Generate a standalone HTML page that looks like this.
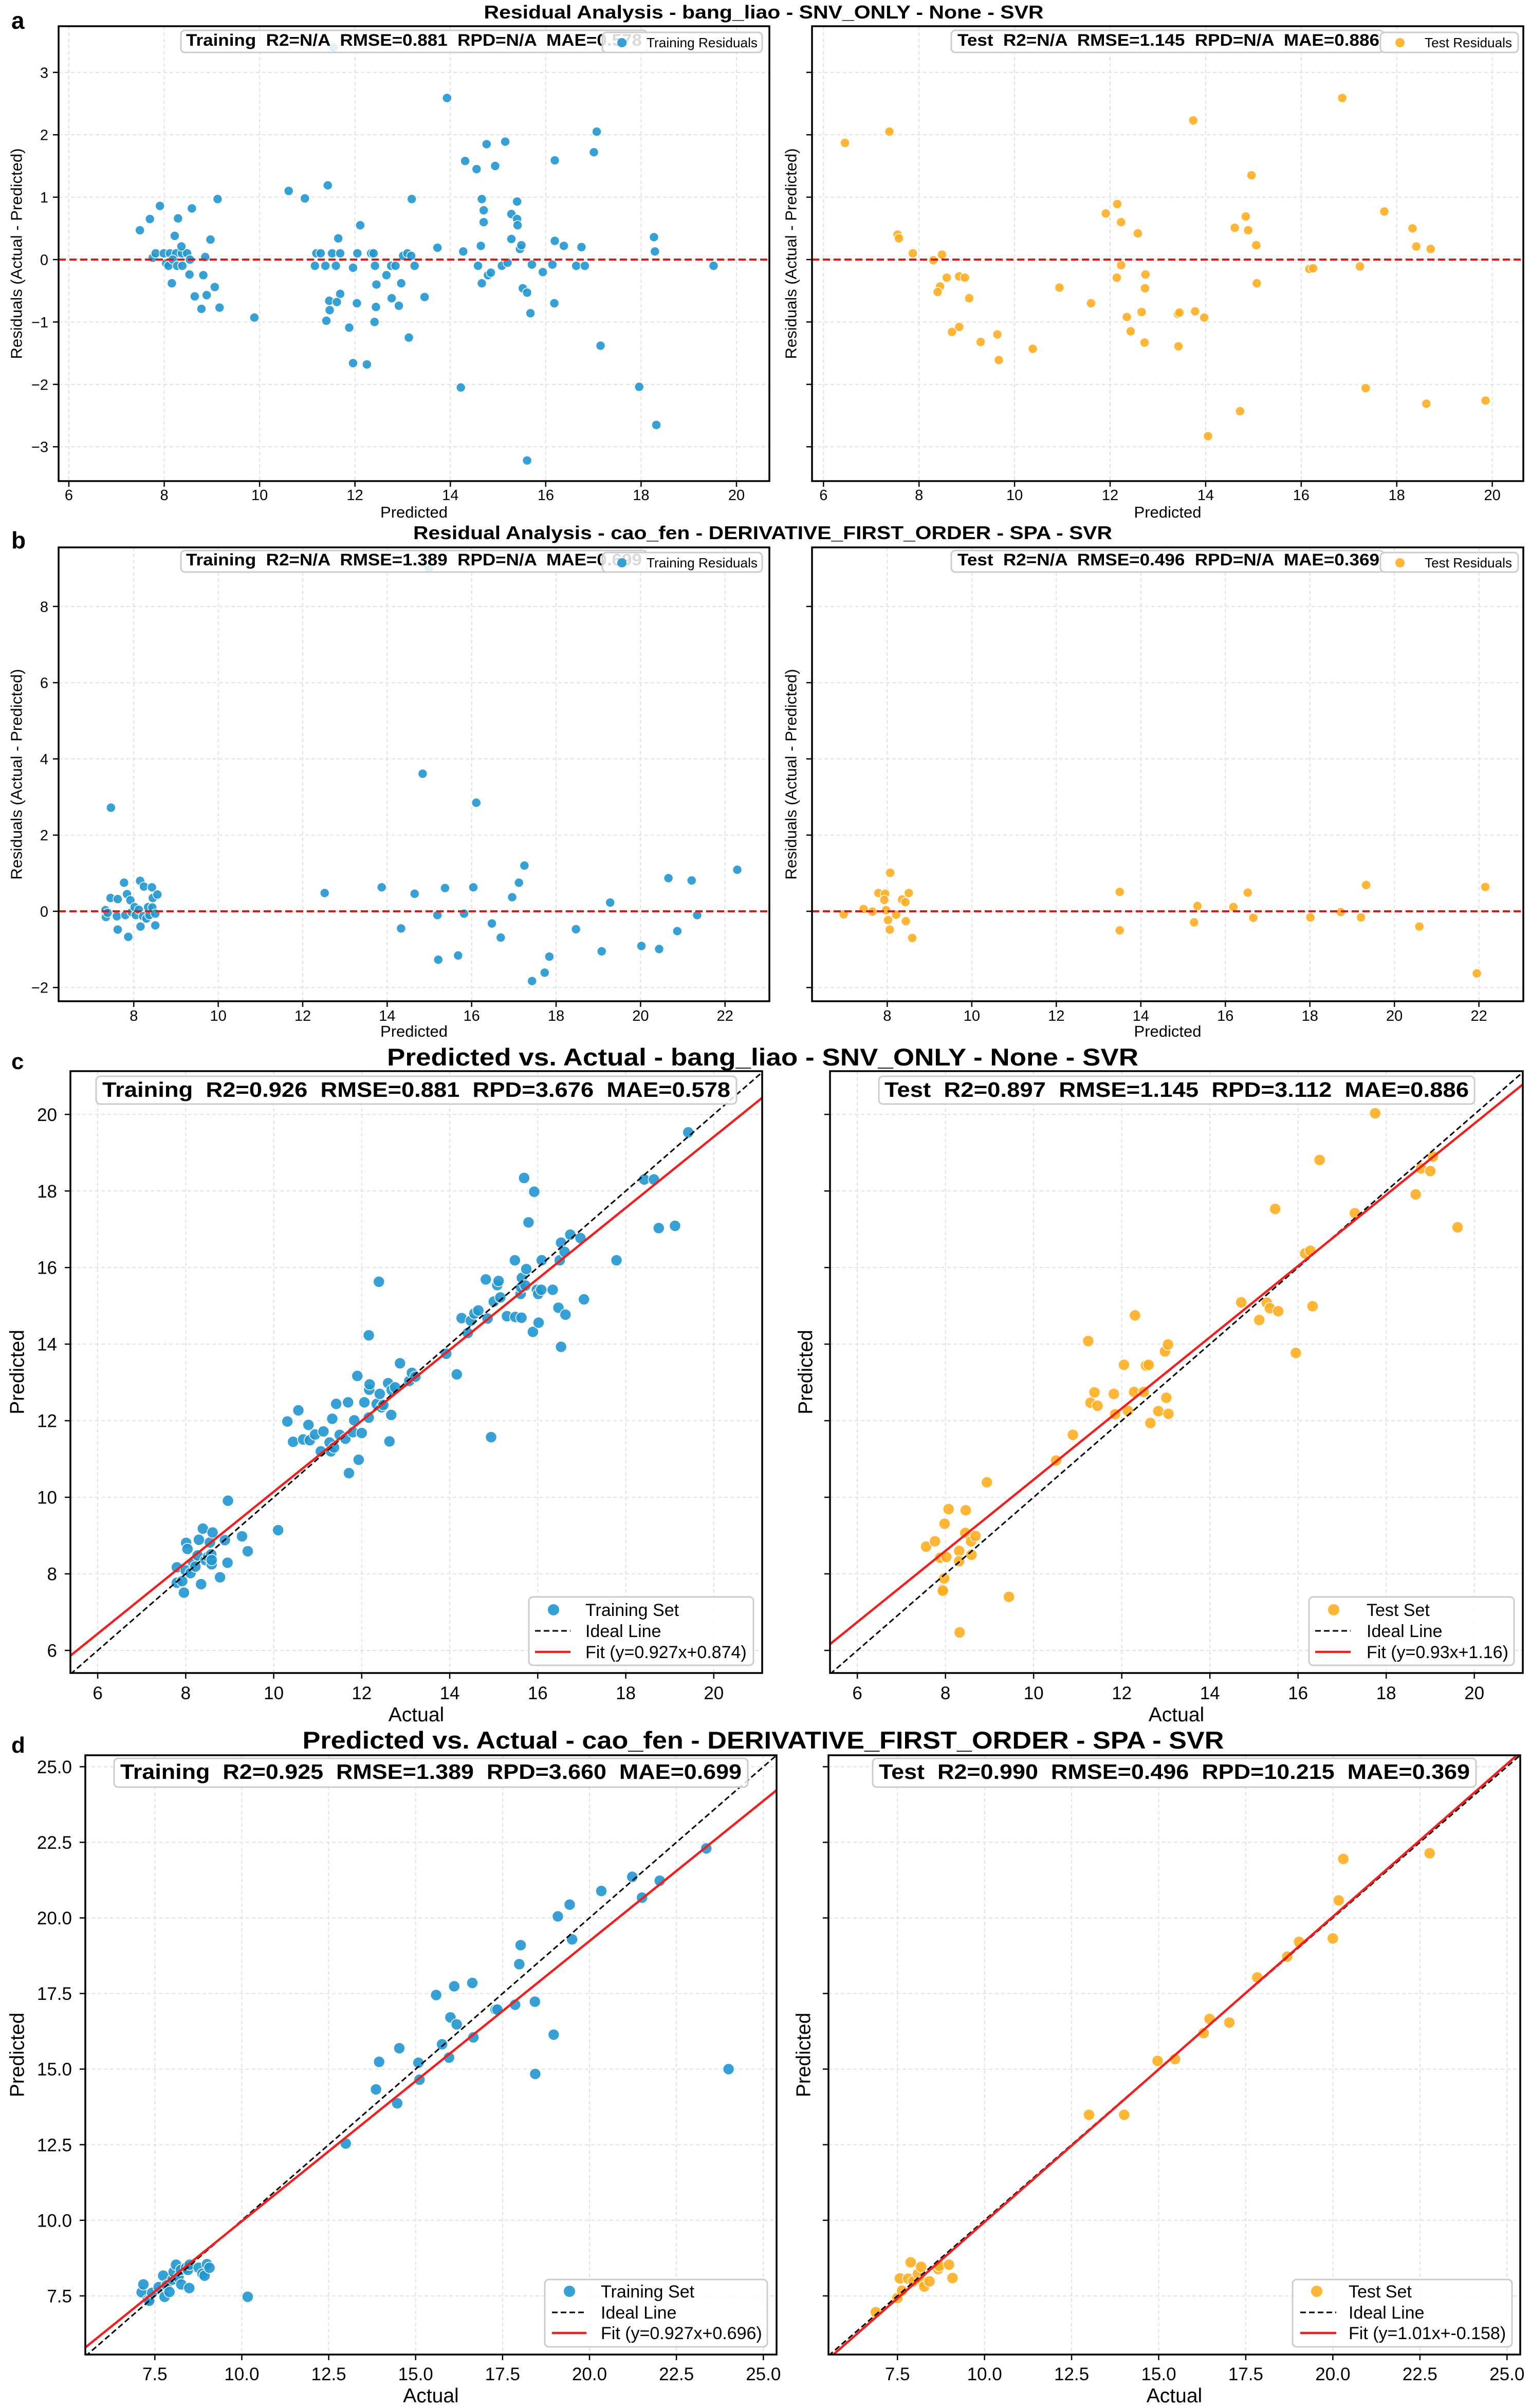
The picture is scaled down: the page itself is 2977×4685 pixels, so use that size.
<!DOCTYPE html>
<html><head><meta charset="utf-8"><style>
html,body{margin:0;padding:0;background:#fff;}
svg{display:block;font-family:"Liberation Sans",Arial,sans-serif;}
text{white-space:pre;}
</style></head><body>
<svg id="chart" width="2977" height="4685" viewBox="0 0 2977 4685" xmlns="http://www.w3.org/2000/svg">
<rect x="0" y="0" width="2977" height="4685" fill="#ffffff"/>
<text x="22" y="56" font-size="46" font-weight="bold">a</text>
<text x="22" y="1067" font-size="46" font-weight="bold">b</text>
<text x="22" y="2080" font-size="44" font-weight="bold">c</text>
<text x="22" y="3410" font-size="44" font-weight="bold">d</text>
<text x="1486" y="36" font-size="36" font-weight="bold" text-anchor="middle" textLength="1089" lengthAdjust="spacingAndGlyphs">Residual Analysis - bang_liao - SNV_ONLY - None - SVR</text>
<text x="1484" y="1049" font-size="36" font-weight="bold" text-anchor="middle" textLength="1360" lengthAdjust="spacingAndGlyphs">Residual Analysis - cao_fen - DERIVATIVE_FIRST_ORDER - SPA - SVR</text>
<text x="1484" y="2073" font-size="47" font-weight="bold" text-anchor="middle" textLength="1462" lengthAdjust="spacingAndGlyphs">Predicted vs. Actual - bang_liao - SNV_ONLY - None - SVR</text>
<text x="1485" y="3402" font-size="47" font-weight="bold" text-anchor="middle" textLength="1793" lengthAdjust="spacingAndGlyphs">Predicted vs. Actual - cao_fen - DERIVATIVE_FIRST_ORDER - SPA - SVR</text>
</svg>
<script>
// ---------- Panel a: residuals bang_liao ----------
const aTrainPred=[7.49,7.70,7.91,7.76,7.82,7.99,8.12,8.25,8.37,8.48,8.04,8.09,8.18,8.27,8.38,8.54,8.22,8.29,8.36,8.58,8.16,8.53,8.64,8.78,8.82,8.86,8.89,8.97,9.06,9.12,9.16,9.89,10.61,10.95,11.43,11.16,11.19,11.28,11.38,11.52,11.60,11.65,11.69,11.69,11.46,11.62,11.47,11.40,11.88,11.96,11.96,12.05,12.04,12.11,12.25,12.34,12.39,12.42,12.41,12.44,12.45,12.66,12.76,12.85,12.77,12.92,12.97,13.01,13.10,13.18,13.13,13.19,13.25,13.46,13.73,13.93,14.22,14.27,14.31,14.55,14.58,14.64,14.66,14.66,14.70,14.70,14.76,14.79,14.85,14.94,15.08,15.15,15.20,15.28,15.28,15.40,15.40,15.41,15.46,15.49,15.52,15.61,15.61,15.68,15.71,15.94,16.14,16.19,16.19,16.18,16.38,16.64,16.75,16.82,17.01,17.07,17.15,17.96,18.27,18.29,18.32,19.52,11.55];
const aTrainRes=[0.47,0.65,0.86,0.03,0.10,0.10,0.10,0.10,0.10,0.10,-0.06,-0.10,0.0,-0.10,-0.10,0.0,0.38,0.66,0.21,0.82,-0.38,-0.24,-0.59,-0.79,-0.25,0.04,-0.57,0.32,-0.44,0.97,-0.77,-0.93,1.10,0.98,1.19,-0.10,0.10,0.10,-0.10,0.10,-0.10,0.34,0.10,-0.55,-0.66,-0.68,-0.81,-0.98,-1.09,-1.66,-0.13,0.10,-0.70,0.55,-1.68,0.10,0.10,-0.10,-1.00,-0.76,-0.40,-0.25,-0.10,-0.10,-0.62,-0.74,-0.38,0.06,0.10,0.06,-1.25,0.97,-0.10,-0.60,0.19,2.59,-2.05,0.13,1.58,1.45,-0.10,0.22,0.97,-0.38,0.79,0.60,1.85,-0.25,-0.21,1.50,-0.10,1.89,-0.05,0.33,0.73,0.93,0.65,0.55,0.17,0.23,-0.46,-0.53,-3.22,-0.86,-0.08,-0.20,-0.08,1.59,0.30,-0.70,0.22,-0.10,0.20,-0.10,1.72,2.05,-1.38,-2.04,0.36,0.13,-2.65,-0.10,3.40];
const aTestPred=[6.45,7.38,7.55,7.58,7.87,8.30,8.48,8.58,8.44,8.39,8.84,8.96,9.05,8.84,8.69,9.29,9.64,9.67,10.38,10.94,11.60,11.91,12.15,12.23,12.23,12.14,12.58,12.35,12.43,12.66,12.74,12.73,12.72,13.42,13.45,13.43,13.74,13.78,13.97,14.05,14.61,14.84,14.89,14.96,15.06,15.07,14.72,16.17,16.25,16.86,17.23,17.35,17.74,18.33,18.41,18.71,18.62,19.86];
const aTestRes=[1.87,2.05,0.40,0.34,0.10,-0.01,0.08,-0.29,-0.43,-0.52,-0.27,-0.29,-0.62,-1.08,-1.16,-1.32,-1.20,-1.61,-1.43,-0.45,-0.70,0.74,0.89,0.60,-0.09,-0.29,0.42,-0.92,-1.15,-0.84,-0.24,-0.46,-1.33,-0.87,-0.85,-1.39,2.23,-0.83,-0.93,-2.83,0.51,0.69,0.47,1.35,0.23,-0.38,-2.43,-0.15,-0.14,2.59,-0.11,-2.06,0.77,0.50,0.21,0.17,-2.31,-2.26];
const aXTicks=[6,8,10,12,14,16,18,20];
const aYTicks=[-3,-2,-1,0,1,2,3];
const aXTickLabels=["6","8","10","12","14","16","18","20"];
const aYTickLabels=["\u22123","\u22122","\u22121","0","1","2","3"];

// ---------- Panel b: residuals cao_fen ----------
const bTrainPred=[7.46,7.33,7.34,7.38,7.45,7.62,7.60,7.62,7.77,7.80,7.84,7.87,7.92,7.95,8.02,8.05,8.12,8.15,8.16,8.22,8.24,8.30,8.34,8.37,8.43,8.44,8.45,8.51,8.51,8.56,12.52,13.87,14.33,14.65,14.84,15.19,15.21,15.37,15.68,15.82,16.04,16.11,16.48,16.69,16.96,17.12,17.25,17.43,17.73,17.84,18.47,19.08,19.28,20.02,20.44,20.66,20.87,21.21,21.34,22.29,14.99];
const bTrainRes=[2.72,0.03,-0.15,-0.04,0.35,0.32,-0.13,-0.48,0.75,-0.10,0.45,-0.67,0.29,-0.02,0.11,-0.10,0.04,0.80,-0.40,-0.13,0.65,-0.19,0.11,-0.10,0.63,0.10,0.35,-0.06,-0.37,0.44,0.48,0.63,-0.45,0.46,3.61,-0.10,-1.27,0.61,-1.16,-0.06,0.63,2.85,-0.32,-0.69,0.37,0.75,1.20,-1.83,-1.61,-1.19,-0.47,-1.05,0.23,-0.91,-0.99,0.87,-0.52,0.81,-0.10,1.09,9.0];
const bTestPred=[6.97,7.44,7.65,7.79,7.95,7.93,7.97,8.07,8.02,8.06,8.21,8.35,8.43,8.51,8.44,8.59,13.50,13.50,15.34,15.26,16.19,16.53,16.66,18.01,18.73,19.21,19.33,20.59,21.95,22.15];
const bTestRes=[-0.08,0.06,-0.01,0.48,0.46,0.30,0.03,1.01,-0.23,-0.48,-0.09,0.31,0.24,0.48,-0.26,-0.70,0.51,-0.50,0.14,-0.29,0.11,0.49,-0.17,-0.16,-0.02,-0.16,0.69,-0.40,-1.63,0.64];
const bXTicks=[8,10,12,14,16,18,20,22];
const bYTicks=[-2,0,2,4,6,8];
const bXTickLabels=["8","10","12","14","16","18","20","22"];
const bYTickLabels=["\u22122","0","2","4","6","8"];

// ---------- Panel c: predicted vs actual bang_liao ----------
const cTrainActual=[7.80,7.80,7.92,7.96,8.01,8.04,8.00,8.11,8.17,8.22,8.27,8.30,8.35,8.39,8.45,8.51,8.55,8.58,8.59,8.61,8.59,8.78,8.89,8.95,8.96,9.28,9.41,10.10,10.31,10.44,10.56,10.67,10.79,10.82,10.94,11.07,11.13,11.27,11.30,11.33,11.37,11.42,11.50,11.63,11.69,11.71,11.80,11.83,11.90,11.93,12.00,12.06,12.16,12.17,12.18,12.16,12.34,12.39,12.41,12.45,12.49,12.60,12.63,12.67,12.68,12.76,12.87,13.08,13.14,13.22,13.92,14.16,14.27,14.41,14.48,14.56,14.65,14.82,14.86,14.94,15.00,15.08,15.11,15.15,15.30,15.48,15.49,15.61,15.62,15.63,15.64,15.69,15.72,15.74,15.79,15.89,15.92,15.98,16.01,16.02,16.08,16.09,16.34,16.47,16.50,16.53,16.53,16.61,16.63,16.74,16.97,17.05,17.79,18.42,18.64,18.75,19.12,19.42];
const cTrainPredicted=[8.17,7.77,7.81,7.51,8.81,8.65,8.09,8.02,8.30,8.19,8.48,8.89,7.73,9.18,8.36,8.45,8.82,8.51,8.25,9.08,8.36,7.91,8.88,8.29,9.91,8.98,8.59,9.14,11.98,11.45,12.27,11.51,11.89,11.49,11.64,11.20,11.72,11.43,11.20,12.05,11.30,12.44,11.63,11.53,12.48,10.63,11.70,12.01,13.17,10.98,11.68,12.48,12.08,12.81,12.95,14.23,12.44,15.63,12.70,12.35,12.41,12.98,11.46,12.15,12.80,12.87,13.50,13.04,13.25,13.15,13.75,13.21,14.68,14.29,14.61,14.80,14.88,15.69,14.67,11.57,15.11,15.54,15.65,15.22,14.73,16.19,14.71,15.31,15.48,14.69,15.73,18.34,15.53,15.96,17.18,14.32,17.98,15.42,15.31,14.56,15.42,16.19,15.42,14.95,16.19,16.65,13.93,16.41,14.77,16.86,16.77,15.17,16.19,18.30,18.30,17.03,17.09,19.53];
const cTestActual=[7.56,7.76,7.88,7.93,7.94,7.97,7.98,8.02,8.07,8.32,8.31,8.31,8.46,8.45,8.58,8.59,8.68,8.94,9.44,10.51,10.89,11.24,11.29,11.38,11.45,11.82,11.85,12.05,12.14,12.28,12.30,12.50,12.55,12.61,12.65,12.83,12.98,13.01,13.05,13.06,14.71,15.12,15.29,15.36,15.48,15.55,15.95,16.16,16.28,16.33,16.49,17.29,17.75,18.67,18.79,19.00,19.06,19.62];
const cTestPredicted=[8.71,8.85,8.42,7.59,7.56,7.88,9.31,8.44,9.69,6.47,8.60,8.33,9.66,9.07,8.85,8.50,8.99,10.39,7.40,10.96,11.63,14.08,12.47,12.74,12.39,12.70,12.17,13.46,12.26,12.75,14.75,12.75,13.44,13.46,11.94,12.25,13.81,12.60,13.99,12.18,15.09,14.63,15.08,14.94,17.53,14.86,13.77,16.37,16.44,14.99,18.81,17.42,20.03,17.91,18.59,18.52,18.90,17.05];
const cTrainFit=[0.927,0.874];
const cTestFit=[0.93,1.16];
const cTicks=[6,8,10,12,14,16,18,20];
const cTickLabels=["6","8","10","12","14","16","18","20"];

// ---------- Panel d: predicted vs actual cao_fen ----------
const dTrainActual=[7.12,7.17,7.30,7.34,7.42,7.61,7.74,7.78,7.84,7.92,8.01,8.04,8.11,8.18,8.25,8.26,8.40,8.45,8.49,8.50,8.76,8.87,8.93,9.00,9.07,10.17,12.99,13.86,13.95,14.47,14.53,15.08,15.11,15.59,15.76,15.96,16.00,16.11,16.18,16.63,16.66,17.30,17.35,17.86,17.98,18.02,18.43,18.44,18.97,19.09,19.43,19.50,20.34,21.23,21.51,22.02,23.36,24.00];
const dTrainPredicted=[7.62,7.88,7.37,7.34,7.60,7.79,8.17,7.47,7.85,7.63,8.04,8.29,8.53,8.11,8.36,7.88,8.43,8.36,7.76,8.53,8.43,8.23,8.17,8.55,8.43,7.47,12.54,14.33,15.24,13.87,15.69,15.21,14.65,17.45,15.82,15.38,16.71,17.74,16.48,17.85,16.05,16.97,16.97,17.13,18.47,19.10,17.23,14.84,16.14,20.05,20.44,19.29,20.89,21.36,20.67,21.23,22.30,15.00];
const dTestActual=[6.88,7.50,7.63,7.57,7.81,7.88,7.96,8.09,8.18,8.22,8.27,8.42,8.67,8.70,8.98,9.08,13.00,14.01,14.97,15.47,16.29,16.46,17.03,17.83,18.69,19.03,20.00,20.17,20.30,22.78];
const dTestPredicted=[6.96,7.43,7.67,8.08,8.07,8.61,7.98,8.23,8.46,7.97,7.81,7.98,8.39,8.49,8.53,8.09,13.49,13.49,15.27,15.33,16.19,16.66,16.54,18.03,18.72,19.21,19.32,20.58,21.95,22.14];
const dTrainFit=[0.927,0.696];
const dTestFit=[1.01,-0.158];
const dTicks=[7.5,10,12.5,15,17.5,20,22.5,25];
const dTickLabels=["7.5","10.0","12.5","15.0","17.5","20.0","22.5","25.0"];

const BLUE="#2196cf", ORANGE="#ffad1f";
const NS="http://www.w3.org/2000/svg";
const svg=document.getElementById('chart');
let clipId=0;
function mk(tag,attrs,parent){const e=document.createElementNS(NS,tag);for(const k in attrs)e.setAttribute(k,attrs[k]);parent.appendChild(e);return e;}

function drawPanel(p){
  const g=mk('g',{},svg);
  
  
  const sx=v=>p.x0+(v-p.xmin)/(p.xmax-p.xmin)*(p.x1-p.x0);
  const sy=v=>p.y1-(v-p.ymin)/(p.ymax-p.ymin)*(p.y1-p.y0);
  const cid='clip'+(clipId++);
  const cp=mk('clipPath',{id:cid},g);
  mk('rect',{x:p.x0,y:p.y0,width:p.x1-p.x0,height:p.y1-p.y0},cp);
  // grid
  p.xticks.forEach((t,i)=>{
    const gl=mk('line',{x1:sx(t),x2:sx(t),y1:p.y0,y2:p.y1,stroke:'#e2e2e2','stroke-width':2,'stroke-dasharray':'7,5'},g);
    
    
    const tk=mk('line',{x1:sx(t),x2:sx(t),y1:p.y1,y2:p.y1+11,stroke:'#000','stroke-width':2.5},g);
    
    
    const tl=mk('text',{x:sx(t),y:p.xtb,'font-size':p.tfs,'text-anchor':'middle',fill:'#000'},g);
    tl.textContent=p.xlabels[i];
    
    
  });
  p.yticks.forEach((t,i)=>{
    const gl=mk('line',{x1:p.x0,x2:p.x1,y1:sy(t),y2:sy(t),stroke:'#e2e2e2','stroke-width':2,'stroke-dasharray':'7,5'},g);
    
    
    const tk=mk('line',{x1:p.x0-11,x2:p.x0,y1:sy(t),y2:sy(t),stroke:'#000','stroke-width':2.5},g);
    
    
    if(p.showY){
      const tl=mk('text',{x:p.x0-p.ylo,y:sy(t)+p.tfs*0.36,'font-size':p.tfs,'text-anchor':'end',fill:'#000'},g);
      tl.textContent=p.ylabels[i];
      
      
    }
  });
  const plot=mk('g',{'clip-path':'url(#'+cid+')'},g);
  
  
  for(let i=0;i<p.xs.length;i++){
    const c=mk('circle',{cx:sx(p.xs[i]),cy:sy(p.ys[i]),r:p.r,fill:p.color,'fill-opacity':0.9,stroke:'#fff','stroke-width':1.5},plot);
    
    
  }
  if(p.kind==='res'){
    const z=mk('line',{x1:p.x0,x2:p.x1,y1:sy(0),y2:sy(0),stroke:'#ee1111','stroke-width':4,'stroke-dasharray':'14,7'},plot);
    
    
  } else {
    const idl=mk('line',{x1:sx(p.xmin),y1:sy(p.xmin),x2:sx(p.xmax),y2:sy(p.xmax),stroke:'#000','stroke-width':3,'stroke-dasharray':'11,6'},plot);
    
    
    const fl=mk('line',{x1:sx(p.xmin),y1:sy(p.fit[0]*p.xmin+p.fit[1]),x2:sx(p.xmax),y2:sy(p.fit[0]*p.xmax+p.fit[1]),stroke:'#f02020','stroke-width':4.5},plot);
    
    
  }
  const fr=mk('rect',{x:p.x0,y:p.y0,width:p.x1-p.x0,height:p.y1-p.y0,fill:'none',stroke:'#000','stroke-width':3.5},g);
  
  
  const xl=mk('text',{x:(p.x0+p.x1)/2,y:p.xlb,'font-size':p.lfs,'text-anchor':'middle'},g);
  xl.textContent=p.xlabel;
  
  
  const yc=(p.y0+p.y1)/2;
  const yl=mk('text',{x:p.ylx,y:yc,'font-size':p.lfs,'text-anchor':'middle','dominant-baseline':'central',transform:'rotate(-90 '+p.ylx+' '+yc+')'},g);
  yl.textContent=p.ylabel;
  
  
  // stats box
  const sb=mk('rect',{x:p.sb[0],y:p.sb[1],width:p.sb[2]-p.sb[0],height:p.sb[3]-p.sb[1],rx:8,fill:'#fff','fill-opacity':0.85,stroke:'#cccccc','stroke-width':3},g);
  
  
  const st=mk('text',{x:p.st[0],y:p.st[2],'font-size':p.sfs,'font-weight':'bold',textLength:p.st[1]-p.st[0],lengthAdjust:'spacingAndGlyphs'},g);
  st.textContent=p.stats;
  
  
  // legend
  const lg=mk('g',{},g);
  
  
  const lb=mk('rect',{x:p.lg[0],y:p.lg[1],width:p.lg[2]-p.lg[0],height:p.lg[3]-p.lg[1],rx:8,fill:'#fff','fill-opacity':0.85,stroke:'#cccccc','stroke-width':3},lg);
  
  
  if(p.kind==='res'){
    const m=mk('circle',{cx:p.lm,cy:p.lrows[0],r:p.r,fill:p.color,'fill-opacity':0.9},lg);
    
    
    const t=mk('text',{x:p.lt[0],y:p.lrows[0]+9,'font-size':26,textLength:p.lt[1]-p.lt[0],lengthAdjust:'spacingAndGlyphs'},lg);
    t.textContent=p.legendText[0];
    
    
  } else {
    const m=mk('circle',{cx:p.lm,cy:p.lrows[0],r:p.r,fill:p.color,'fill-opacity':0.9},lg);
    
    
    const l1=mk('line',{x1:p.ll[0],x2:p.ll[1],y1:p.lrows[1],y2:p.lrows[1],stroke:'#000','stroke-width':3,'stroke-dasharray':'11,6'},lg);
    
    
    const l2=mk('line',{x1:p.ll[0],x2:p.ll[1],y1:p.lrows[2],y2:p.lrows[2],stroke:'#f02020','stroke-width':4.5},lg);
    
    
    for(let i=0;i<3;i++){
      const t=mk('text',{x:p.lt[0],y:p.lrows[i]+12,'font-size':34},lg);
      t.textContent=p.legendText[i];
      
      
    }
  }
}

const resCommon={kind:'res',tfs:29,lfs:31,r:9,ylo:20,xlabel:'Predicted',ylabel:'Residuals (Actual - Predicted)',sfs:32};
const pvaCommon={kind:'pva',tfs:35,lfs:39,r:11,ylo:26,xlabel:'Actual',ylabel:'Predicted',sfs:41};

drawPanel(Object.assign({},resCommon,{name:'panel-a-train',x0:114,x1:1497,y0:51,y1:936,xmin:5.785,xmax:20.69,ymin:-3.55,ymax:3.74,
 xticks:aXTicks,yticks:aYTicks,xlabels:aXTickLabels,ylabels:aYTickLabels,showY:true,xs:aTrainPred,ys:aTrainRes,color:BLUE,
 xtb:973,xlb:1007,ylx:32,sb:[352,59,1259,102],st:[362,1249,89],stats:'Training  R2=N/A  RMSE=0.881  RPD=N/A  MAE=0.578',
 lg:[1172,63,1483,102],lm:1210,lrows:[83],lt:[1258,1474],legendText:['Training Residuals']}));
drawPanel(Object.assign({},resCommon,{name:'panel-a-test',x0:1580,x1:2964,y0:51,y1:936,xmin:5.76,xmax:20.65,ymin:-3.55,ymax:3.74,
 xticks:aXTicks,yticks:aYTicks,xlabels:aXTickLabels,ylabels:aYTickLabels,showY:false,xs:aTestPred,ys:aTestRes,color:ORANGE,
 xtb:973,xlb:1007,ylx:1539,sb:[1851,59,2692,102],st:[1863,2684,89],stats:'Test  R2=N/A  RMSE=1.145  RPD=N/A  MAE=0.886',
 lg:[2686,63,2954,102],lm:2724,lrows:[83],lt:[2772,2942],legendText:['Test Residuals']}));
drawPanel(Object.assign({},resCommon,{name:'panel-b-train',x0:114,x1:1497,y0:1065,y1:1948,xmin:6.22,xmax:23.05,ymin:-2.36,ymax:9.55,
 xticks:bXTicks,yticks:bYTicks,xlabels:bXTickLabels,ylabels:bYTickLabels,showY:true,xs:bTrainPred,ys:bTrainRes,color:BLUE,
 xtb:1986,xlb:2017,ylx:32,sb:[352,1071,1259,1113],st:[362,1249,1100],stats:'Training  R2=N/A  RMSE=1.389  RPD=N/A  MAE=0.699',
 lg:[1172,1075,1483,1113],lm:1210,lrows:[1095],lt:[1258,1474],legendText:['Training Residuals']}));
drawPanel(Object.assign({},resCommon,{name:'panel-b-test',x0:1580,x1:2964,y0:1065,y1:1948,xmin:6.22,xmax:23.05,ymin:-2.36,ymax:9.55,
 xticks:bXTicks,yticks:bYTicks,xlabels:bXTickLabels,ylabels:bYTickLabels,showY:false,xs:bTestPred,ys:bTestRes,color:ORANGE,
 xtb:1986,xlb:2017,ylx:1539,sb:[1851,1071,2692,1113],st:[1863,2684,1100],stats:'Test  R2=N/A  RMSE=0.496  RPD=N/A  MAE=0.369',
 lg:[2686,1075,2954,1113],lm:2724,lrows:[1095],lt:[2772,2942],legendText:['Test Residuals']}));
drawPanel(Object.assign({},pvaCommon,{name:'panel-c-train',x0:137,x1:1483,y0:2084,y1:3255,xmin:5.38,xmax:21.1,ymin:5.41,ymax:21.13,
 xticks:cTicks,yticks:cTicks,xlabels:cTickLabels,ylabels:cTickLabels,showY:true,xs:cTrainActual,ys:cTrainPredicted,color:BLUE,fit:cTrainFit,
 xtb:3306,xlb:3349,ylx:34,sb:[187,2094,1433,2148],st:[199,1421,2134],stats:'Training  R2=0.926  RMSE=0.881  RPD=3.676  MAE=0.578',
 lg:[1029,3107,1466,3240],lm:1077,ll:[1041,1110],lrows:[3132,3173,3214],lt:[1139],legendText:['Training Set','Ideal Line','Fit (y=0.927x+0.874)']}));
drawPanel(Object.assign({},pvaCommon,{name:'panel-c-test',x0:1615,x1:2963,y0:2084,y1:3255,xmin:5.38,xmax:21.1,ymin:5.41,ymax:21.13,
 xticks:cTicks,yticks:cTicks,xlabels:cTickLabels,ylabels:cTickLabels,showY:false,xs:cTestActual,ys:cTestPredicted,color:ORANGE,fit:cTestFit,
 xtb:3306,xlb:3349,ylx:1568,sb:[1710,2094,2869,2148],st:[1721,2858,2134],stats:'Test  R2=0.897  RMSE=1.145  RPD=3.112  MAE=0.886',
 lg:[2547,3107,2946,3240],lm:2595,ll:[2559,2628],lrows:[3132,3173,3214],lt:[2659],legendText:['Test Set','Ideal Line','Fit (y=0.93x+1.16)']}));
drawPanel(Object.assign({},pvaCommon,{name:'panel-d-train',x0:166,x1:1511,y0:3415,y1:4581,xmin:5.5,xmax:25.38,ymin:5.56,ymax:25.38,
 xticks:dTicks,yticks:dTicks,xlabels:dTickLabels,ylabels:dTickLabels,showY:true,xs:dTrainActual,ys:dTrainPredicted,color:BLUE,fit:dTrainFit,
 xtb:4631,xlb:4674,ylx:34,sb:[222,3421,1455,3477],st:[234,1443,3461],stats:'Training  R2=0.925  RMSE=1.389  RPD=3.660  MAE=0.699',
 lg:[1060,4435,1493,4566],lm:1108,ll:[1074,1141],lrows:[4458,4499,4539],lt:[1169],legendText:['Training Set','Ideal Line','Fit (y=0.927x+0.696)']}));
drawPanel(Object.assign({},pvaCommon,{name:'panel-d-test',x0:1612,x1:2958,y0:3415,y1:4581,xmin:5.52,xmax:25.38,ymin:5.56,ymax:25.38,
 xticks:dTicks,yticks:dTicks,xlabels:dTickLabels,ylabels:dTickLabels,showY:false,xs:dTestActual,ys:dTestPredicted,color:ORANGE,fit:dTestFit,
 xtb:4631,xlb:4674,ylx:1564,sb:[1698,3421,2872,3477],st:[1710,2860,3461],stats:'Test  R2=0.990  RMSE=0.496  RPD=10.215  MAE=0.369',
 lg:[2515,4435,2942,4566],lm:2562,ll:[2530,2600],lrows:[4458,4499,4539],lt:[2624],legendText:['Test Set','Ideal Line','Fit (y=1.01x+-0.158)']}));
</script>
</body></html>
